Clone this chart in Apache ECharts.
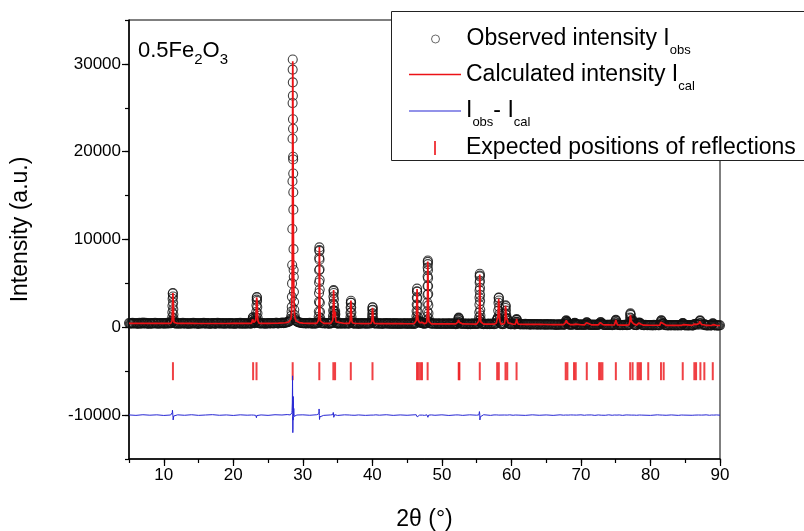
<!DOCTYPE html>
<html><head><meta charset="utf-8">
<script src="https://cdn.jsdelivr.net/npm/echarts@6/dist/echarts.min.js"></script>
<style>html,body{margin:0;padding:0;background:#fff}#c{width:804px;height:531px}</style>
</head><body><div id="c"></div>
<script>
const FONT = "'Liberation Sans', Arial, Helvetica, sans-serif";

// ---------- tick labels ----------
const xTickLabels = [10, 20, 30, 40, 50, 60, 70, 80, 90];
const yTickLabels = [-10000, 0, 10000, 20000, 30000];
const diffOffset = -10000;      // the difference curve is shifted down to -10000
const reflectionLevel = -5000;  // row of reflection markers

// ---------- background of the observed pattern [2θ, I_obs] ----------
const bgObserved = [
[5.00,480],[5.25,415],[5.50,505],[5.75,440],[6.00,465],[6.25,390],[6.50,500],[6.75,430],[7.00,530],[7.25,445],
[7.50,470],[7.75,380],[8.00,495],[8.25,420],[8.50,455],[8.75,515],[9.00,400],[9.25,470],[9.50,435],[9.75,490],
[10.00,410],[10.25,460],[10.50,505],[10.75,430],[11.00,475],[11.75,450],[12.00,400],[12.25,485],[12.50,430],[12.75,500],
[13.00,420],[13.25,465],[13.50,385],[13.75,470],[14.00,440],[14.25,510],[14.50,425],[14.75,455],[15.00,395],[15.25,480],
[15.50,445],[15.75,500],[16.00,410],[16.25,470],[16.50,435],[16.75,390],[17.00,485],[17.25,450],[17.50,420],[17.75,505],
[18.00,440],[18.25,465],[18.50,400],[18.75,475],[19.00,430],[19.25,495],[19.50,415],[19.75,460],[20.00,440],[20.25,380],
[20.50,470],[20.75,425],[21.00,500],[21.25,445],[21.50,410],[21.75,480],[22.00,435],[22.25,465],[22.50,420],[23.75,470],
[24.00,430],[24.25,495],[24.50,440],[24.75,405],[25.00,480],[25.25,450],[25.50,495],[25.75,430],[26.00,470],[26.25,510],
[26.50,445],[26.75,490],[27.00,530],[27.25,470],[27.50,545],[27.75,580],[29.25,610],[29.50,540],[29.75,500],[30.00,455],
[30.25,490],[30.50,430],[30.75,470],[31.00,505],[31.25,440],[31.50,475],[31.75,420],[32.00,490],[32.75,455],[33.00,500],
[33.25,430],[33.50,470],[33.75,410],[34.00,480],[35.00,445],[35.25,490],[35.50,420],[35.75,465],[36.00,400],[36.25,475],
[36.50,440],[37.25,470],[37.50,415],[37.75,455],[38.00,395],[38.25,480],[38.50,430],[38.75,460],[39.00,410],[39.25,470],
[39.50,440],[40.50,455],[40.75,400],[41.00,470],[41.25,425],[41.50,380],[41.75,460],[42.00,435],[42.25,480],[42.50,405],
[42.75,445],[43.00,390],[43.25,470],[43.50,420],[43.75,455],[44.00,375],[44.25,440],[44.50,410],[44.75,470],[45.00,395],
[45.25,450],[45.50,420],[45.75,460],[46.00,390],[47.50,440],[48.50,450],[48.75,400],[49.00,440],[49.25,370],[49.50,455],
[49.75,410],[50.00,390],[50.25,445],[50.50,370],[50.75,430],[51.00,400],[51.25,455],[51.50,385],[51.75,420],[52.00,365],
[52.75,430],[53.00,380],[53.25,440],[53.50,395],[53.75,360],[54.00,425],[54.25,385],[54.50,445],[54.75,370],[55.00,410],
[55.75,420],[56.00,360],[56.25,400],[56.50,345],[56.75,415],[57.00,375],[57.25,420],[57.50,350],[58.50,400],[58.75,350],
[59.75,395],[60.00,340],[60.25,385],[60.50,330],[61.00,390],[61.25,345],[61.50,370],[61.75,320],[62.00,385],[62.25,340],
[62.50,365],[62.75,310],[63.00,375],[63.25,330],[63.50,360],[63.75,300],[64.00,370],[64.25,325],[64.50,345],[64.75,295],
[65.00,360],[65.25,315],[65.50,350],[65.75,290],[66.00,345],[66.25,310],[66.50,270],[66.75,335],[67.00,300],[67.25,345],
[67.50,285],[68.25,330],[68.50,285],[68.75,320],[69.50,275],[69.75,330],[70.00,290],[70.25,315],[70.50,265],[71.25,320],
[71.50,275],[71.75,310],[72.00,260],[72.25,305],[72.50,285],[73.25,300],[73.50,255],[73.75,295],[74.00,270],[74.25,305],
[74.50,250],[74.75,290],[75.50,260],[75.75,295],[76.00,240],[76.25,285],[76.50,255],[76.75,300],[77.75,275],[78.00,240],
[79.00,245],[79.25,285],[79.50,235],[79.75,270],[80.00,250],[80.25,210],[80.50,275],[80.75,240],[81.00,265],[81.25,225],
[82.25,255],[82.50,215],[82.75,265],[83.00,230],[83.25,250],[83.50,205],[83.75,255],[84.00,225],[84.25,260],[85.00,215],
[85.25,250],[85.50,205],[85.75,245],[86.00,220],[88.00,240],[88.25,200],[88.50,245],[88.75,215],[89.25,205],[89.50,240],
[89.75,195],[90.00,225]
];
// intermediate scan steps of the background [2θ, I_obs]
const bgObservedFine = [
[5.125,455],[5.375,470],[5.625,425],[5.875,495],[6.125,440],[6.375,480],[6.625,410],[6.875,470],[7.125,425],[7.375,505],
[7.625,445],[7.875,460],[8.125,415],[8.375,485],[8.625,430],[8.875,470],[9.125,450],[9.375,405],[9.625,480],[9.875,445],
[10.125,470],[10.375,420],[10.625,455],[10.875,495],[11.625,430],[11.875,475],[12.125,445],[12.375,410],[12.625,465],[12.875,440],
[13.125,490],[13.375,430],[13.625,455],[13.875,410],[14.125,470],[14.375,445],[14.625,490],[14.875,420],[15.125,460],[15.375,430],
[15.625,475],[15.875,440],[16.125,495],[16.375,415],[16.625,460],[16.875,435],[17.125,470],[17.375,405],[17.625,455],[17.875,480],
[18.125,425],[18.375,490],[18.625,445],[18.875,410],[19.125,465],[19.375,440],[19.625,480],[19.875,420],[20.125,460],[20.375,435],
[20.625,490],[20.875,445],[21.125,415],[21.375,470],[21.625,450],[21.875,405],[22.125,465],[22.375,440],[23.875,445],[24.125,480],
[24.375,420],[24.625,465],[24.875,450],[25.125,490],[25.375,430],[25.625,470],[25.875,455],[26.125,500],[26.375,450],[26.625,490],
[26.875,470],[27.125,505],[27.375,490],[27.625,540],[27.875,600],[29.375,570],[29.625,520],[29.875,490],[30.125,470],[30.375,445],
[30.625,485],[30.875,450],[31.125,470],[31.375,420],[31.625,480],[31.875,445],[32.875,470],[33.125,440],[33.375,485],[33.625,450],
[33.875,425],[34.125,465],[34.875,455],[35.125,420],[35.375,465],[35.625,440],[35.875,480],[36.125,430],[36.375,455],[36.625,415],
[37.375,440],[37.625,480],[37.875,425],[38.125,455],[38.375,410],[38.625,470],[38.875,435],[39.125,450],[39.375,405],[39.625,465],
[40.375,430],[40.625,470],[40.875,440],[41.125,405],[41.375,455],[41.625,430],[41.875,470],[42.125,400],[42.375,445],[42.625,420],
[42.875,460],[43.125,415],[43.375,440],[43.625,395],[43.875,455],[44.125,420],[44.375,460],[44.625,400],[44.875,435],[45.125,410],
[45.375,455],[45.625,395],[45.875,430],[46.125,410],[47.375,420],[47.625,450],[48.375,430],[48.625,415],[48.875,455],[49.125,405],
[49.375,430],[49.625,385],[49.875,440],[50.125,410],[50.375,425],[50.625,395],[50.875,445],[51.125,375],[51.375,420],[51.625,405],
[51.875,435],[52.125,390],[52.875,400],[53.125,425],[53.375,370],[53.625,415],[53.875,395],[54.125,360],[54.375,410],[54.625,385],
[54.875,420],[55.125,375],[55.875,385],[56.125,410],[56.375,370],[56.625,395],[56.875,355],[57.125,400],[57.375,380],[57.625,405],
[58.625,375],[58.875,390],[59.875,360],[60.125,375],[60.375,350],[61.125,365],[61.375,330],[61.625,355],[61.875,345],[62.125,320],
[62.375,360],[62.625,335],[62.875,350],[63.125,315],[63.375,345],[63.625,325],[63.875,350],[64.125,310],[64.375,340],[64.625,320],
[64.875,335],[65.125,300],[65.375,330],[65.625,315],[65.875,340],[66.125,295],[66.375,325],[66.625,305],[66.875,320],[67.125,285],
[67.375,315],[67.625,300],[68.375,305],[68.625,290],[68.875,315],[69.375,300],[69.625,285],[69.875,305],[70.125,275],[70.375,300],
[70.625,285],[71.125,295],[71.375,270],[71.625,290],[71.875,280],[72.125,295],[72.375,265],[73.375,280],[73.625,265],[73.875,285],
[74.125,255],[74.375,280],[74.625,265],[75.375,275],[75.625,250],[75.875,270],[76.125,260],[76.375,280],[76.625,245],[76.875,270],
[77.875,255],[78.875,265],[79.125,240],[79.375,260],[79.625,250],[79.875,230],[80.125,260],[80.375,240],[80.625,225],[80.875,255],
[81.125,235],[82.125,240],[82.375,225],[82.625,250],[82.875,215],[83.125,240],[83.375,230],[83.625,245],[83.875,215],[84.125,235],
[84.375,220],[85.125,235],[85.375,215],[85.625,240],[85.875,225],[86.125,210],[87.875,225],[88.125,210],[88.375,235],[88.625,205],
[89.375,225],[89.625,210],[89.875,230]
];

// ---------- background of the calculated pattern [2θ, I_cal] ----------
const bgCalculated = [
[5,450],[6,448],[7,446],[8,444],[9,442],[10,440],[11,440],[12,438],[13,437],[14,436],[15,435],[16,434],[17,434],[18,434],
[19,435],[20,436],[21,437],[22,438],[24,440],[25,445],[26,460],[26.5,470],[27,490],[27.5,520],[27.75,560],[29.25,580],
[29.5,540],[29.75,500],[30,470],[31,455],[32,450],[33,447],[34,445],[35,440],[36,437],[37.5,432],[38,430],[39,425],
[40.5,420],[41,418],[42,415],[43,412],[44,410],[45,407],[46,405],[47.5,402],[48.5,400],[49,398],[50,395],[51,390],
[52,385],[53,380],[54,375],[55,370],[56,365],[57,360],[57.5,358],[58.5,355],[59.75,350],[60.25,347],[61,342],[62,336],
[63,330],[64,324],[65,318],[66,312],[67,306],[67.5,303],[68.5,298],[69.5,292],[70,289],[70.5,286],[71.5,280],[72,277],
[72.5,274],[73.5,268],[74,265],[74.5,262],[75.5,258],[76,255],[76.5,252],[78,245],[79,240],[80,236],[81,232],[82.25,227],
[83,224],[84,221],[85,218],[86,215],[88,210],[88.5,208],[89.5,205],[90,205]
];

// ---------- residual between peaks [2θ, I_obs - I_cal] ----------
const diffBaseline = [
[5,20],[6,-30],[7,40],[8,-10],[9,30],[10,-40],[11,10],[12,30],[13,-20],[14,40],[15,-30],[16,10],[17,50],[18,-20],
[19,20],[20,-40],[21,30],[22,-10],[24,20],[25,-30],[26,40],[27,10],[27.75,60],[29.25,-50],[30,30],[31,-20],[32,40],
[33,-30],[34,20],[35,-40],[36,30],[37.5,-20],[38,20],[39,-30],[40.5,30],[41,-10],[42,40],[43,-30],[44,20],[45,-20],
[46,30],[47.5,-30],[48.5,20],[49,-20],[50,30],[51,-40],[52,20],[53,-30],[54,30],[55,-10],[56,40],[57,-30],[57.5,20],
[58.5,-20],[59.75,30],[60.25,-20],[61,20],[62,-30],[63,30],[64,-20],[65,20],[66,-30],[67,30],[67.5,-10],[68.5,20],
[69.5,-20],[70,30],[70.5,-20],[71.5,20],[72,-30],[72.5,20],[73.5,-20],[74,30],[74.5,-20],[75.5,20],[76,-30],[76.5,20],
[78,-20],[79,20],[80,-30],[81,30],[82.25,-20],[83,20],[84,-30],[85,20],[86,-20],[88,30],[88.5,-20],[89.5,20],[90,-10]
];

// ---------- Bragg peaks: [2θ, I_obs, I_cal] ----------
const peakProfiles = [
[[11.08,470,450],[11.14,560,520],[11.18,760,700],[11.21,1150,1000],[11.23,1700,1400],[11.25,2450,1900],[11.27,3250,2700],[11.29,3850,3500],[11.31,3900,3900],[11.33,3500,3750],[11.35,2800,3350],[11.37,2050,2700],[11.39,1450,1950],[11.41,1000,1350],[11.44,700,800],[11.48,540,560],[11.54,470,460]],
[[22.62,450,440],[22.70,520,500],[22.75,650,640],[22.78,880,900],[22.81,1100,1120],[22.83,1150,1150],[22.86,950,1000],[22.89,720,760],[22.94,560,560],[23.00,480,480]],
[[23.10,470,470],[23.18,560,560],[23.23,750,780],[23.27,1150,1250],[23.30,1750,1950],[23.33,2500,2800],[23.36,3150,3400],[23.38,3450,3500],[23.40,3400,3400],[23.42,3000,3050],[23.45,2300,2350],[23.48,1600,1650],[23.51,1050,1100],[23.55,720,740],[23.61,540,540],[23.70,470,470]],
[[28.00,640,620],[28.10,700,680],[28.20,800,780],[28.28,980,950],[28.34,1300,1250],[28.38,1800,1700],[28.41,2320,2300],[28.43,3470,3200],[28.45,5000,4500],[28.47,7100,6500],[28.49,11190,9800],[28.51,16640,13500],[28.52,21470,17000],[28.53,25540,22300],[28.54,29350,27600],[28.55,30500,30300],[28.56,27900,29900],[28.57,26380,28200],[28.58,23700,25300],[28.59,22620,22800],[28.60,19430,20000],[28.61,19120,17600],[28.62,17520,15400],[28.63,15380,13400],[28.64,13400,11700],[28.66,8900,8700],[28.68,6530,6600],[28.70,5760,5000],[28.72,4040,3900],[28.74,2900,3050],[28.77,2000,2150],[28.82,1400,1400],[28.88,1050,1020],[28.95,850,850],[29.05,720,710],[29.15,660,650]],
[[32.12,480,470],[32.20,580,560],[32.25,800,780],[32.28,1200,1150],[32.30,1800,1650],[32.32,2900,2500],[32.33,3900,3300],[32.34,5100,4400],[32.35,6500,5800],[32.36,7900,7300],[32.37,8800,8600],[32.38,9100,9150],[32.39,8700,8900],[32.40,7700,8200],[32.41,6600,7100],[32.42,5400,5900],[32.43,4300,4700],[32.45,2800,3000],[32.47,1750,1900],[32.50,1050,1100],[32.55,700,700],[32.62,520,520]],
[[34.18,470,460],[34.26,580,560],[34.31,850,800],[34.34,1300,1200],[34.36,1900,1700],[34.38,2700,2400],[34.40,3500,3250],[34.42,4150,4000],[34.43,4250,4250],[34.45,3900,4150],[34.47,3200,3550],[34.49,2500,2800],[34.51,1900,2050],[34.54,1350,1400],[34.58,1200,1150],[34.62,1500,1450],[34.65,1850,1800],[34.68,1500,1550],[34.72,900,950],[34.78,600,610],[34.86,480,480]],
[[36.68,460,450],[36.76,560,550],[36.81,780,760],[36.84,1150,1100],[36.86,1650,1550],[36.88,2250,2150],[36.90,2800,2750],[36.92,3030,3050],[36.94,2800,2900],[36.96,2250,2400],[36.98,1700,1800],[37.01,1150,1200],[37.05,750,760],[37.12,520,520],[37.20,450,450]],
[[39.80,440,440],[39.88,540,530],[39.93,740,720],[39.96,1100,1050],[39.98,1500,1450],[40.00,1950,1900],[40.02,2250,2230],[40.04,2290,2280],[40.06,2000,2050],[40.08,1600,1650],[40.11,1100,1120],[40.15,720,720],[40.22,500,500],[40.30,440,440]],
[[46.18,430,420],[46.26,540,520],[46.31,800,760],[46.34,1250,1150],[46.36,1850,1700],[46.38,2600,2400],[46.40,3400,3200],[46.42,4100,4000],[46.43,4400,4350],[46.45,4050,4250],[46.47,3300,3600],[46.49,2500,2700],[46.51,1800,1850],[46.54,1150,1200],[46.58,800,820],[46.63,700,700],[46.67,720,730],[46.72,600,610],[46.80,520,520],[46.88,600,590],[46.92,640,630],[46.98,520,520],[47.08,520,510],[47.14,580,570],[47.20,480,480],[47.30,430,430]],
[[47.72,430,420],[47.80,530,520],[47.85,780,750],[47.88,1200,1150],[47.90,1800,1700],[47.92,2800,2550],[47.93,3700,3400],[47.94,4700,4400],[47.95,5800,5600],[47.96,6800,6800],[47.97,7450,7500],[47.98,7600,7650],[47.99,7200,7450],[48.00,6500,6900],[48.01,5600,6050],[48.02,4700,5050],[48.03,3800,4000],[48.05,2500,2600],[48.07,1600,1650],[48.10,1000,1000],[48.15,650,650],[48.22,470,470]],
[[52.20,410,400],[52.28,480,470],[52.33,640,620],[52.37,870,850],[52.40,1050,1030],[52.42,1100,1100],[52.45,980,1000],[52.48,770,780],[52.53,560,560],[52.62,420,420]],
[[55.20,400,390],[55.28,500,490],[55.33,750,720],[55.36,1150,1100],[55.38,1700,1500],[55.40,2600,2200],[55.41,3400,2900],[55.42,4200,3650],[55.43,5100,4600],[55.44,5800,5450],[55.45,6100,6000],[55.46,5900,6150],[55.47,5300,5850],[55.48,4500,5150],[55.49,3700,4300],[55.50,3000,3450],[55.52,2000,2200],[55.54,1350,1450],[55.57,900,920],[55.62,600,600],[55.70,420,420]],
[[57.75,380,370],[57.84,520,500],[57.90,800,780],[57.94,950,930],[57.99,900,900],[58.05,1150,1100],[58.10,1900,1800],[58.14,2800,2700],[58.17,3350,3250],[58.19,3400,3400],[58.21,3050,3200],[58.24,2300,2450],[58.27,1500,1600],[58.31,950,950],[58.37,620,620],[58.45,450,450]],
[[59.00,420,410],[59.06,600,580],[59.10,1000,950],[59.12,1600,1550],[59.14,2200,2150],[59.16,2500,2450],[59.18,2400,2400],[59.21,1900,2000],[59.25,1400,1400],[59.30,1050,1050],[59.35,950,950],[59.40,1000,1000],[59.45,750,760],[59.52,500,500],[59.60,400,400]],
[[60.55,370,360],[60.63,450,440],[60.68,620,610],[60.72,850,830],[60.75,950,950],[60.78,850,870],[60.82,620,640],[60.88,450,460],[60.96,370,370]],
[[67.66,330,320],[67.74,400,390],[67.80,560,550],[67.85,750,720],[67.89,800,800],[67.93,720,740],[67.98,620,640],[68.03,600,600],[68.08,480,480],[68.16,340,340]],
[[68.92,320,310],[69.00,400,390],[69.06,480,470],[69.12,500,500],[69.18,450,460],[69.26,360,360],[69.34,310,310]],
[[70.65,310,300],[70.74,400,390],[70.80,530,520],[70.85,580,580],[70.90,520,530],[70.97,380,380],[71.05,300,300]],
[[72.55,300,290],[72.62,380,370],[72.70,420,420],[72.78,540,530],[72.85,600,600],[72.92,520,530],[73.00,420,420],[73.08,400,400],[73.16,300,300]],
[[74.80,290,280],[74.88,380,370],[74.94,580,560],[74.98,780,760],[75.02,850,850],[75.06,760,780],[75.11,560,570],[75.18,370,370],[75.26,280,280]],
[[76.90,280,270],[76.98,400,390],[77.03,650,620],[77.07,1100,1000],[77.10,1500,1400],[77.12,1600,1600],[77.15,1400,1450],[77.19,1000,1050],[77.24,700,700],[77.30,600,600],[77.38,750,720],[77.43,850,840],[77.48,650,680],[77.56,400,400],[77.66,280,280]],
[[78.10,300,290],[78.18,380,370],[78.26,420,410],[78.34,500,490],[78.40,550,540],[78.48,470,480],[78.58,420,420],[78.66,350,350],[78.75,270,270]],
[[81.35,260,250],[81.43,350,340],[81.49,600,580],[81.53,780,760],[81.57,800,800],[81.61,700,720],[81.67,500,510],[81.75,380,380],[81.85,420,410],[81.92,430,430],[82.00,270,270]],
[[84.45,240,230],[84.55,330,320],[84.62,450,440],[84.66,480,480],[84.71,420,430],[84.80,300,300],[84.90,240,240]],
[[86.20,250,240],[86.30,380,370],[86.38,330,330],[86.55,400,390],[86.65,330,330],[86.90,300,290],[87.00,450,440],[87.08,700,680],[87.13,800,790],[87.18,720,740],[87.25,480,490],[87.35,300,300],[87.70,300,290],[87.76,380,370],[87.84,280,280]],
[[88.80,240,230],[88.88,340,330],[88.95,450,440],[89.02,420,420],[89.10,300,300],[89.20,230,230]]
];

// ---------- expected reflection positions (2θ) ----------
const reflections = [
11.32, 22.85, 23.34, 28.54, 32.37, 34.39, 34.64, 36.90, 40.02, 46.42, 46.65, 46.90, 47.14, 47.95,
52.42, 52.52, 55.45, 57.95, 58.19, 59.15, 59.40, 60.74, 67.81, 68.05, 69.00, 69.25, 70.84, 72.61,
72.85, 73.09, 75.02, 77.08, 77.43, 78.15, 78.39, 78.63, 79.68, 81.51, 81.90, 84.64, 86.31, 86.56,
87.18, 87.75, 88.96
];

// ---------- legend texts ----------
const legendLabels = {
  obs: 'Observed intensity I{s|obs}',
  cal: 'Calculated intensity I{s|cal}',
  diff: 'I{s|obs}- I{s|cal}',
  refl: 'Expected positions of reflections'
};

// ---------- assemble series data ----------
const windows = peakProfiles.map(p => [p[0][0] - 0.01, p[p.length - 1][0] + 0.01]);
const outside = x => !windows.some(w => x >= w[0] && x <= w[1]);
const peakPts = peakProfiles.flat();
const byX = (a, b) => a[0] - b[0];
const obsData = bgObserved.concat(bgObservedFine).filter(p => outside(p[0]))
  .concat(peakPts.map(p => [p[0], p[1]])).sort(byX);
const calData = bgCalculated.filter(p => outside(p[0])).concat(peakPts.map(p => [p[0], p[2]])).sort(byX);
const diffData = diffBaseline.filter(p => outside(p[0])).map(p => [p[0], p[1] + diffOffset])
  .concat(peakPts.map(p => [p[0], p[1] - p[2] + diffOffset])).sort(byX);
const reflData = reflections.map(x => [x, reflectionLevel]);

const RED = '#ec1216', BLUE = '#2626d4';
const txt = {color: '#000', fontFamily: FONT};
const rich = {s: {fontSize: 13, verticalAlign: 'bottom', color: '#000', fontFamily: FONT}};

function mkLegend(item, left, top, itemHeight) {
  return {
    orient: 'vertical', left: left, top: top, padding: 0, itemWidth: 52, itemHeight: itemHeight || 8,
    selectedMode: false, z: 5,
    formatter: n => legendLabels[n],
    textStyle: {fontSize: 23, lineHeight: 36, color: '#000', fontFamily: FONT, rich: rich},
    data: [item]
  };
}

const chart = echarts.init(document.getElementById('c'), null, {renderer: 'canvas'});
chart.setOption({
  animation: false,
  backgroundColor: '#fff',
  title: {
    text: '0.5Fe{s|2}O{s|3}', left: 133, top: 29,
    textStyle: {fontSize: 22, fontWeight: 'normal', color: '#000', fontFamily: FONT, lineHeight: 33,
      rich: {s: {fontSize: 15, verticalAlign: 'bottom', color: '#000', fontFamily: FONT}}}
  },
  grid: {left: 129, right: 84, top: 20, bottom: 72, show: true, borderColor: '#000', borderWidth: 1,
         backgroundColor: 'transparent', containLabel: false, outerBoundsMode: 'none'},
  graphic: [{type: 'rect', z: 3, shape: {x: 391.5, y: 11.5, width: 440, height: 149}, style: {fill: '#fff', stroke: '#222', lineWidth: 1}}],
  legend: [
    mkLegend({name: 'obs', icon: 'circle', itemStyle: {color: '#fff', borderColor: '#444', borderWidth: 1}}, 431, 21),
    mkLegend({name: 'cal', icon: 'path://M0,0L52,0L52,1.6L0,1.6Z'}, 409, 56.5),
    mkLegend({name: 'diff', icon: 'path://M0,0L52,0L52,1.1L0,1.1Z'}, 409, 93),
    mkLegend({name: 'refl', icon: 'path://M0,0L2,0L2,14L0,14Z'}, 434, 130, 14)
  ],
  xAxis: [
    {type: 'value', min: 5, max: 90, interval: 5, position: 'bottom',
     axisLine: {show: true, onZero: false, lineStyle: {color: '#000', width: 1.5}},
     axisTick: {show: true, length: 4, lineStyle: {color: '#000', width: 1.2}},
     axisLabel: {formatter: v => xTickLabels.includes(v) ? String(v) : '', fontSize: 17, margin: 8, ...txt},
     splitLine: {show: false},
     name: '2θ (°)', nameLocation: 'middle', nameGap: 49, nameTextStyle: {fontSize: 23, ...txt}},
    {type: 'value', min: 5, max: 90, position: 'bottom',
     axisLine: {show: false, onZero: false},
     axisTick: {show: true, length: 7, customValues: xTickLabels, lineStyle: {color: '#000', width: 1.2}},
     axisLabel: {show: false}, splitLine: {show: false}}
  ],
  yAxis: [
    {type: 'value', min: -15000, max: 35000, interval: 5000, position: 'left',
     axisLine: {show: true, onZero: false, lineStyle: {color: '#000', width: 1.5}},
     axisTick: {show: true, length: 4, lineStyle: {color: '#000', width: 1.2}},
     axisLabel: {formatter: v => yTickLabels.includes(v) ? String(v) : '', fontSize: 17, margin: 8, ...txt},
     splitLine: {show: false},
     name: 'Intensity (a.u.)', nameLocation: 'middle', nameGap: 97,
     nameTextStyle: {fontSize: 23, padding: [0, 0, 0, 20], ...txt}},
    {type: 'value', min: -15000, max: 35000, position: 'left',
     axisLine: {show: false, onZero: false},
     axisTick: {show: true, length: 7, customValues: yTickLabels, lineStyle: {color: '#000', width: 1.2}},
     axisLabel: {show: false}, splitLine: {show: false}}
  ],
  series: [
    {name: 'obs', type: 'scatter', data: obsData, symbol: 'circle', symbolSize: 9,
     itemStyle: {color: 'rgba(255,255,255,0)', borderColor: '#111', borderWidth: 1.1}, silent: true},
    {name: 'cal', type: 'line', data: calData, symbol: 'none', showSymbol: false,
     lineStyle: {color: RED, width: 1.7}, itemStyle: {color: RED}, silent: true},
    {name: 'diff', type: 'line', data: diffData, symbol: 'none', showSymbol: false,
     lineStyle: {color: BLUE, width: 1}, itemStyle: {color: BLUE}, silent: true},
    {name: 'refl', type: 'scatter', data: reflData, symbol: 'rect', symbolSize: [2, 18],
     itemStyle: {color: RED}, silent: true}
  ]
});
</script>
</body></html>
